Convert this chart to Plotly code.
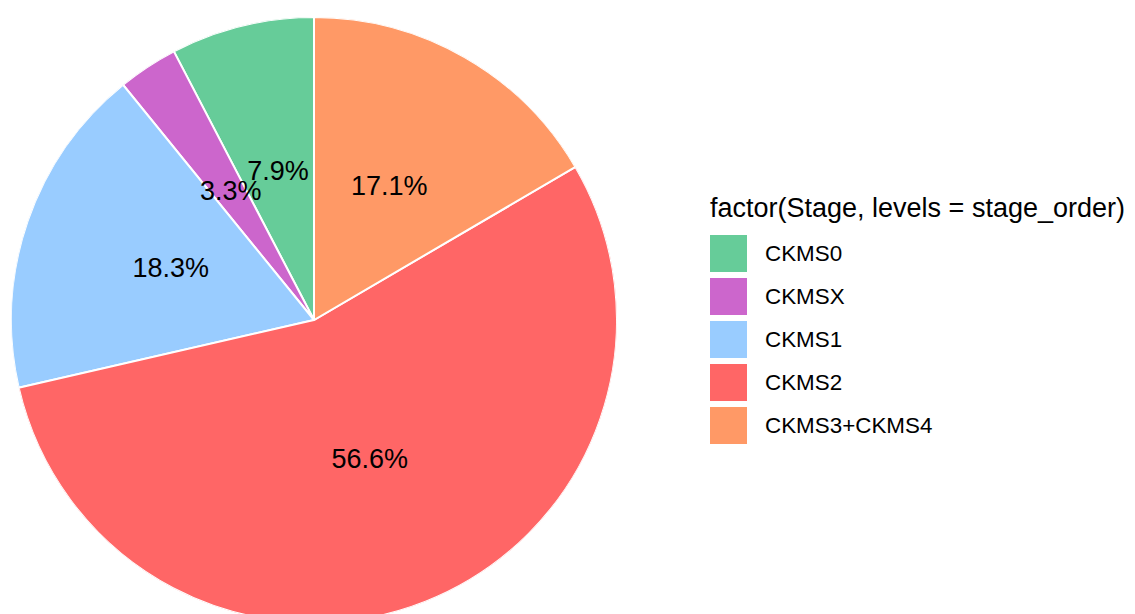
import numpy as np
import plotly.graph_objects as go

# ---- data ----
stages = ["CKMS0", "CKMSX", "CKMS1", "CKMS2", "CKMS3+CKMS4"]
percent = [7.9, 3.3, 18.3, 56.6, 17.1]
colors = ["#66CC99", "#CC66CC", "#99CCFF", "#FF6666", "#FF9966"]
legend_title = "factor(Stage, levels = stage_order)"

W, H = 1135, 620
OFF = 8  # page body margin offset
FONT = "Liberation Sans, Arial, sans-serif"

vals = np.array(percent, dtype=float)
widths = vals / vals.sum() * 360.0
starts = np.concatenate([[0], np.cumsum(widths)[:-1]])
mids = starts + widths / 2

fig = go.Figure()
fig.add_trace(go.Barpolar(
    r=[1] * len(stages), theta=mids, width=widths,
    marker=dict(color=colors, line=dict(color="white", width=2)),
    showlegend=False, hoverinfo="skip",
))
fig.add_trace(go.Scatterpolar(
    r=[0.5] * len(stages), theta=mids, mode="text",
    text=[f"{p:.1f}%" for p in percent],
    textfont=dict(family=FONT, size=27, color="black"),
    showlegend=False, hoverinfo="skip",
))

def px(x): return (x - OFF) / W
def py(y): return 1 - (y - OFF) / H

cx, cy, R = 314, 320, 303
fig.update_layout(
    width=W, height=H, margin=dict(l=0, r=0, t=0, b=0),
    paper_bgcolor="white", plot_bgcolor="white",
    polar=dict(
        domain=dict(x=[px(cx - R), px(cx + R)], y=[py(cy + R), py(cy - R)]),
        bgcolor="white", bargap=0,
        radialaxis=dict(visible=False, range=[0, 1]),
        angularaxis=dict(visible=False, rotation=90, direction="counterclockwise"),
    ),
)

# ---- legend (ggplot style) ----
key_x0, key_w, key_h, step, key_top0 = 710, 37, 37, 43, 235
fig.add_annotation(x=px(708), y=py(208), xref="paper", yref="paper",
                   text=legend_title, showarrow=False, xanchor="left", yanchor="middle",
                   font=dict(family=FONT, size=27, color="black"))
for i, (s, c) in enumerate(zip(stages, colors)):
    y0 = key_top0 + i * step
    fig.add_shape(type="rect", xref="paper", yref="paper",
                  x0=px(key_x0), x1=px(key_x0 + key_w), y0=py(y0), y1=py(y0 + key_h),
                  fillcolor=c, line=dict(width=0))
    fig.add_annotation(x=px(763), y=py(y0 + key_h / 2), xref="paper", yref="paper",
                       text=s, showarrow=False, xanchor="left", yanchor="middle",
                       font=dict(family=FONT, size=22.4, color="black"))

fig.write_html("out.html")
